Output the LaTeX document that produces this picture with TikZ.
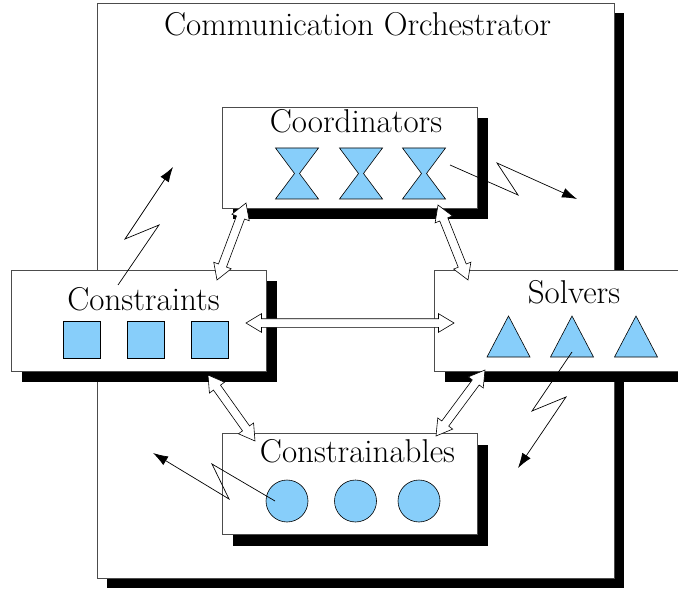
\documentclass[tikz,border=0pt]{standalone}
\usepackage{fontspec}
\usetikzlibrary{arrows.meta,shapes.arrows,shadows,calc}
\definecolor{partblue}{RGB}{135,206,250}

\begin{document}
\begin{tikzpicture}[
        x=1pt, y=-1pt,
        panel/.style={draw=black!70, fill=white, line width=0.8pt, inner sep=0pt,
            minimum width=255pt, minimum height=101pt,
            drop shadow={shadow xshift=#1, shadow yshift=-#1, fill=black, opacity=1}},
        panel/.default=11pt,
        heading/.style={font=\rmfamily\fontsize{33}{38}\selectfont, anchor=base, inner sep=0pt},
        part/.style={draw, fill=partblue, line width=0.6pt},
        link/.style={shape=double arrow, draw, fill=white, line width=0.6pt,
            inner xsep=0pt, inner ysep=4pt, minimum width=18pt, double arrow head extend=5pt, double arrow tip angle=62},
        bolt/.style={line width=0.7pt, -{Latex[length=15pt,width=10pt]}}
    ]
        \useasboundingbox (0,0) rectangle (678,591);
        \clip (0,0) rectangle (678,591);

        \node [panel=10pt, minimum width=517pt, minimum height=575pt] (orch) at (355.5,290.5) {};
        \node [heading] (orchtxt) at (357.5,36) {Communication Orchestrator};

        \node [panel] (coord) at (349.5,157.5) {};
        \node [panel] (cons)  at (138.5,320.5) {};
        \node [panel] (solv)  at (561.5,320.5) {};
        \node [panel] (cstr)  at (349.5,484)   {};

        \node [heading] (coordtxt) at (356,133)   {Coordinators};
        \node [heading] (constxt)  at (143.5,310) {Constraints};
        \node [heading] (solvtxt)  at (574,303)   {Solvers};
        \node [heading] (cstrtxt)  at (357.5,462) {Constrainables};

        % members
        \foreach \x in {297,361,424}
            \draw [part] (\x,173.5) ++(-21.5,-25.5) -- ++(43,0) -- ++(-19,25.5) -- ++(19,25.5) -- ++(-43,0) -- ++(19,-25.5) -- cycle;
        \foreach \x [count=\i] in {82,145.5,209.5}
            \node [part, minimum size=37pt, inner sep=0pt] (sq\i) at (\x,340) {};
        \foreach \x in {508.5,572,636}
            \draw [part] (\x-21.5,357) -- (\x+21.5,357) -- (\x,316) -- cycle;
        \foreach \x [count=\i] in {287,355.5,419}
            \node [part, circle, minimum size=42pt, inner sep=0pt] (ci\i) at (\x,501) {};

        % hollow links
        \coordinate (coordSW) at (246,203);  \coordinate (consNE) at (217,280);
        \coordinate (coordSE) at (438,205);  \coordinate (solvNW) at (468,280);
        \coordinate (consE)   at (246,323);  \coordinate (solvW)  at (454,323);
        \coordinate (consSE)  at (208,375);  \coordinate (cstrNW) at (255,441);
        \coordinate (solvSW)  at (485,370);  \coordinate (cstrNE) at (436,436);
        \foreach \a/\b in {coordSW/consNE, coordSE/solvNW, consE/solvW, consSE/cstrNW, solvSW/cstrNE}
            \path let \p1=($(\b)-(\a)$), \n1={veclen(\x1,\y1)} in
                (\a) -- node [link, sloped, minimum height=\n1] {} (\b);

        % messages
        \coordinate (consFrom)  at (118,285); \coordinate (consTo)  at (173,167);
        \coordinate (coordFrom) at (450,165); \coordinate (coordTo) at (577,199);
        \coordinate (solvFrom)  at (572,352); \coordinate (solvTo)  at (518,468);
        \coordinate (cstrFrom)  at (275,501); \coordinate (cstrTo)  at (153,453);
        \draw [bolt] (consFrom)  -- ++(41,-60) -- ++(-34,14) -- (consTo);
        \draw [bolt] (coordFrom) -- ++(68,30)  -- ++(-21,-32) -- (coordTo);
        \draw [bolt] (solvFrom)  -- ++(-40,59) -- ++(34,-14) -- (solvTo);
        \draw [bolt] (cstrFrom)  -- ++(-63,-37) -- ++(17,35) -- (cstrTo);
    \end{tikzpicture}
\end{document}
